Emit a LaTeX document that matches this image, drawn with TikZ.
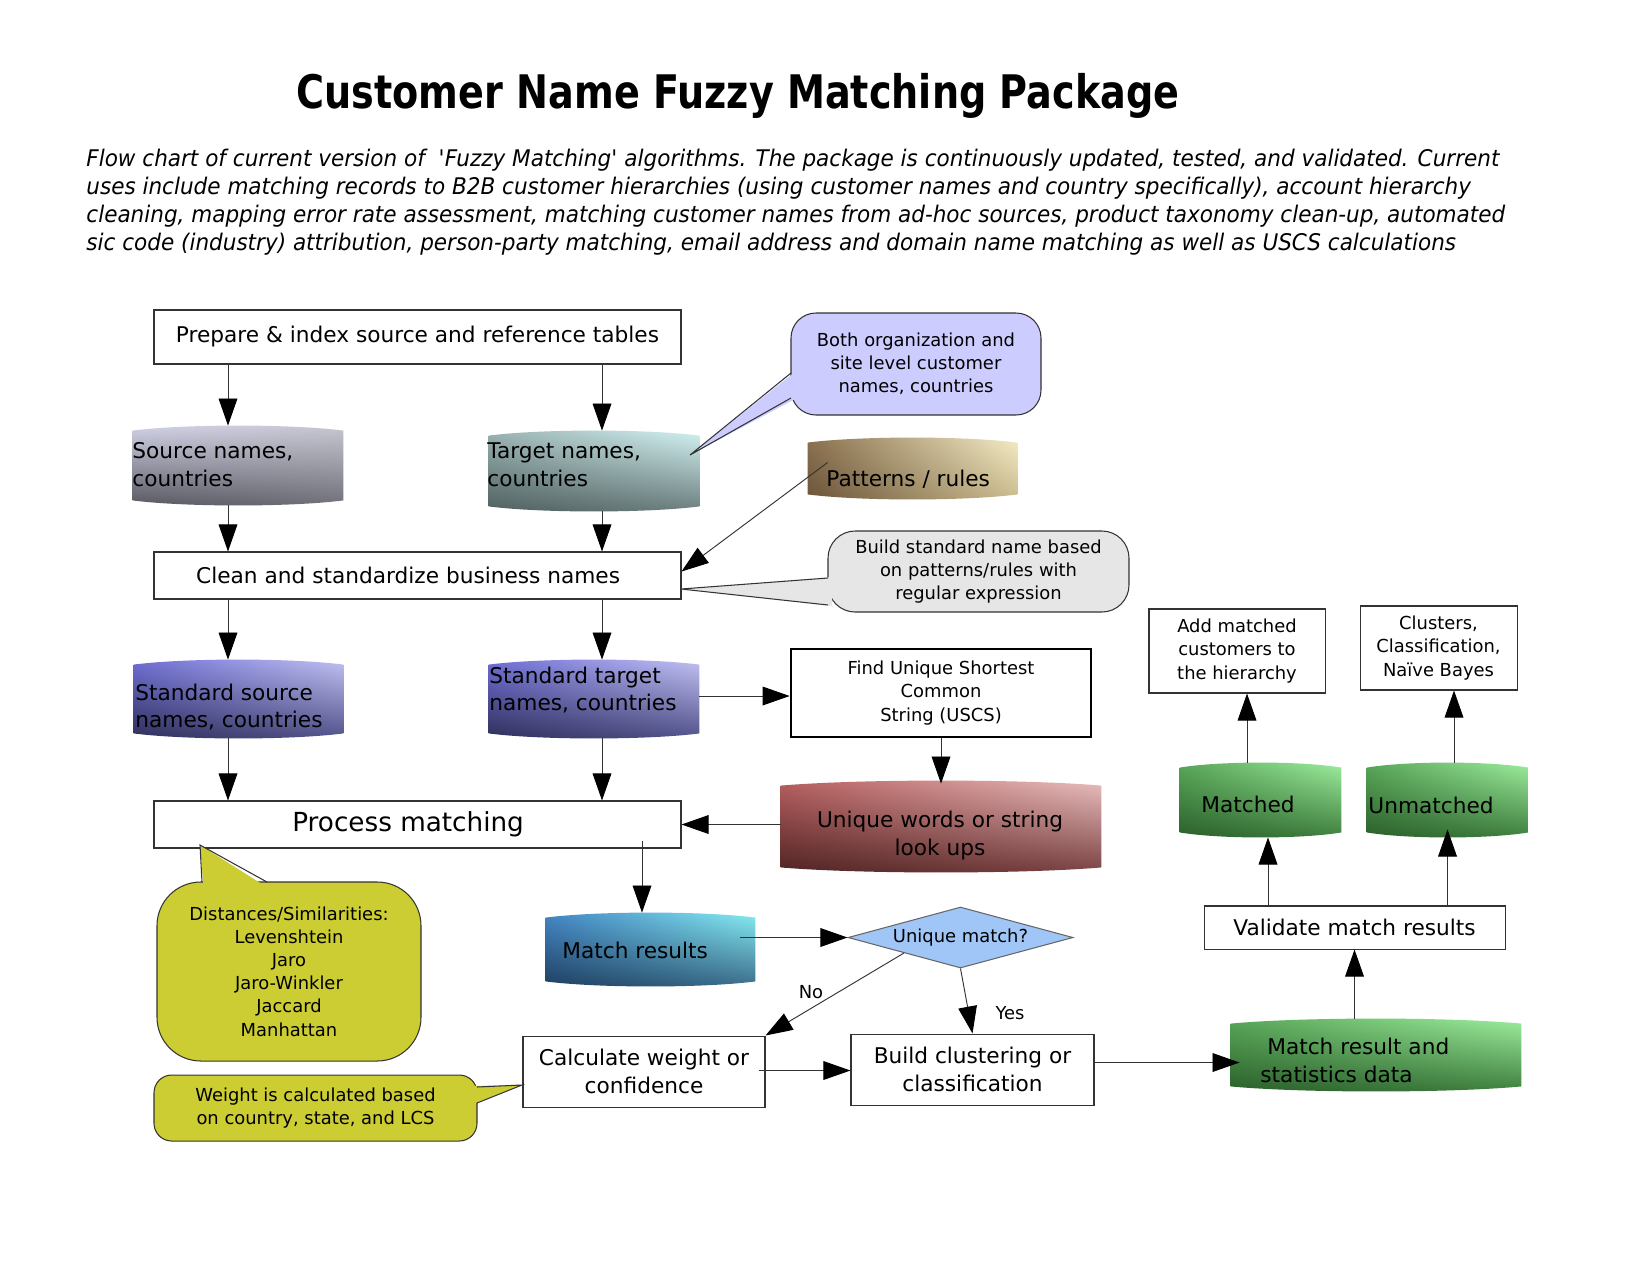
\documentclass[tikz,border=0pt]{standalone}
\usepackage{fontspec}
\setmainfont{DejaVu Sans}
\newfontfamily\titlefont{DejaVu Sans}[FakeStretch=0.825]
\newfontfamily\introfont{DejaVu Sans}[FakeStretch=0.94]
\usetikzlibrary{arrows.meta,calc,shapes.geometric,shadings}

% one drawing unit = one pixel of a 11in x 8.5in page at 150 dpi
\def\pxu{0.48pt}
\newcommand\txtL{\fontsize{10.4pt}{13.2pt}\selectfont}
\newcommand\txtS{\fontsize{8.6pt}{11.1pt}\selectfont}
\newcommand\txtP{\fontsize{12.6pt}{15pt}\selectfont}

\definecolor{lineclr}{HTML}{333333}
\definecolor{calloutlav}{HTML}{CCCCFF}
\definecolor{calloutgray}{HTML}{E6E6E6}
\definecolor{calloutolive}{HTML}{CCCC33}
\definecolor{decisionblue}{HTML}{9FC6F6}

\tikzset{
  x=0.48pt, y=-0.48pt,
  stepbox/.style={draw=lineclr, line width=0.5pt, fill=white, inner sep=0pt, align=center, font=\txtL},
  drumnode/.style={inner sep=0pt, draw=none},
  drumtext/.style={inner sep=0pt, align=left, font=\txtL},
  callout/.style={draw=lineclr, line width=0.5pt, inner sep=0pt, align=center, font=\txtS},
  tailline/.style={draw=lineclr, line width=0.5pt},
  conn/.style={draw=black!80, line width=0.45pt, -{Triangle[length=13pt,width=9pt,color=black,fill=black]}},
  % drum shadings
  shSrc/.style={upper left={rgb,255:red,212;green,212;blue,234}, upper right={rgb,255:red,200;green,200;blue,210}, lower left={rgb,255:red,85;green,85;blue,94}, lower right={rgb,255:red,110;green,110;blue,120}},
  shTgt/.style={upper left={rgb,255:red,157;green,181;blue,181}, upper right={rgb,255:red,213;green,244;blue,244}, lower left={rgb,255:red,78;green,94;blue,94}, lower right={rgb,255:red,106;green,124;blue,124}},
  shPat/.style={upper left={rgb,255:red,140;green,114;blue,80}, upper right={rgb,255:red,245;green,238;blue,200}, lower left={rgb,255:red,106;green,84;blue,56}, lower right={rgb,255:red,201;green,185;blue,140}},
  shStd/.style={upper left={rgb,255:red,112;green,112;blue,216}, upper right={rgb,255:red,196;green,196;blue,244}, lower left={rgb,255:red,46;green,46;blue,88}, lower right={rgb,255:red,80;green,80;blue,138}},
  shUniq/.style={upper left={rgb,255:red,184;green,96;blue,96}, upper right={rgb,255:red,235;green,192;blue,192}, lower left={rgb,255:red,78;green,34;blue,34}, lower right={rgb,255:red,122;green,64;blue,64}},
  shRes/.style={upper left={rgb,255:red,68;green,136;blue,200}, upper right={rgb,255:red,136;green,240;blue,244}, lower left={rgb,255:red,30;green,62;blue,94}, lower right={rgb,255:red,58;green,106;blue,138}},
  shGreen/.style={upper left={rgb,255:red,90;green,168;blue,90}, upper right={rgb,255:red,160;green,240;blue,160}, lower left={rgb,255:red,42;green,94;blue,42}, lower right={rgb,255:red,60;green,124;blue,60}},
}

% invisible node that carries the name and extent of a drum
\newcommand\drumnode[4]{\node[drumnode, minimum width=#3*\pxu, minimum height=#4*\pxu] (#1) at (#2) {};}
% shaded drum body with bulging top and bottom edges
\newcommand\drumshape[2]{%
  \shade[#2]
   ($(#1.north west)+(0,5)$)
   .. controls ($(#1.north west)!0.25!(#1.north east)+(0,-1.7)$) and ($(#1.north west)!0.75!(#1.north east)+(0,-1.7)$) .. ($(#1.north east)+(0,5)$)
   -- ($(#1.south east)+(0,-5)$)
   .. controls ($(#1.south west)!0.75!(#1.south east)+(0,1.7)$) and ($(#1.south west)!0.25!(#1.south east)+(0,1.7)$) .. ($(#1.south west)+(0,-5)$)
   -- cycle;}

\begin{document}
\begin{tikzpicture}
\useasboundingbox (0,0) rectangle (1650,1275);
\fill[white] (0,0) rectangle (1650,1275);

% heading
\node[anchor=base, inner sep=0pt, font=\titlefont\fontsize{22.2pt}{26pt}\selectfont\bfseries] (title) at (738,108) {Customer Name Fuzzy Matching Package};
\node[anchor=north west, inner sep=0pt, align=left, font=\introfont\fontsize{11pt}{13.4pt}\selectfont\itshape] (intro) at (86,149)
 {Flow chart of current version of\ \ \textquotesingle Fuzzy Matching\textquotesingle\ algorithms. The package is continuously updated, tested, and validated. Current\\
  uses include matching records to B2B customer hierarchies (using customer names and country specifically), account hierarchy\\
  cleaning, mapping error rate assessment, matching customer names from ad-hoc sources, product taxonomy clean-up, automated\\
  sic code (industry) attribution, person-party matching, email address and domain name matching as well as USCS calculations};

% drums
\drumnode{src}{238,465.5}{210}{79}
\drumnode{tgt}{594,471}{210}{80}
\drumnode{pat}{912.5,468.5}{209}{61}
\drumnode{stdsrc}{238.5,699}{209}{78}
\drumnode{stdtgt}{594,699}{210}{78}
\drumnode{uniq}{941,826.5}{320}{91}
\drumnode{mres}{650.5,949.5}{209}{73}
\drumnode{stats}{1376,1055}{290}{72}
\drumnode{matched}{1260.5,800}{161}{74}
\drumnode{unmatched}{1447.5,800}{161}{74}

\drumshape{src}{shSrc}
\drumshape{tgt}{shTgt}
\drumshape{pat}{shPat}
\drumshape{stdsrc}{shStd}
\drumshape{stdtgt}{shStd}
\drumshape{uniq}{shUniq}
\drumshape{mres}{shRes}
\drumshape{stats}{shGreen}
\drumshape{matched}{shGreen}
\drumshape{unmatched}{shGreen}

\node[drumtext, anchor=west] (src-t) at (132,464.5) {Source names,\\countries};
\node[drumtext, anchor=west] (tgt-t) at (487,464.5) {Target names,\\countries};
\node[drumtext, anchor=west] (pat-t) at (826,479) {Patterns / rules};
\node[drumtext, anchor=west] (stdsrc-t) at (135,707) {Standard source\\names, countries};
\node[drumtext, anchor=west] (stdtgt-t) at (489,690) {Standard target\\names, countries};
\node[drumtext, align=center] (uniq-t) at (940,835.5) {Unique words or string\\look ups};
\node[drumtext, anchor=west] (mres-t) at (562,950) {Match results};
\node[drumtext, anchor=west] (stats-t) at (1260,1060.5) {\hspace*{3.3pt}Match result and\\statistics data};
\node[drumtext] (matched-t) at (1248,804) {Matched};
\node[drumtext, anchor=west] (unmatched-t) at (1368,805) {Unmatched};

% process boxes
\node[stepbox, minimum width=527*\pxu, minimum height=54*\pxu] (prep) at (417.5,337) {Prepare \& index source and reference tables};
\node[stepbox, minimum width=527*\pxu, minimum height=47*\pxu] (clean) at (417.5,575.5) {Clean and standardize business names\hspace*{9pt}};
\node[stepbox, minimum width=527*\pxu, minimum height=47*\pxu, font=\txtP] (process) at (417.5,824.5) {Process matching\hspace*{9pt}};
\node[stepbox, line width=1.3pt, draw=black, minimum width=300*\pxu, minimum height=88*\pxu, font=\txtS] (uscs) at (941,693) {Find Unique Shortest\\Common\\String (USCS)};
\node[stepbox, minimum width=176*\pxu, minimum height=84*\pxu, font=\txtS] (addm) at (1237,651) {Add matched\\customers to\\the hierarchy};
\node[stepbox, minimum width=157*\pxu, minimum height=84*\pxu, font=\txtS] (clus) at (1438.5,648) {Clusters,\\Classification,\\Naïve Bayes};
\node[stepbox, minimum width=301*\pxu, minimum height=43*\pxu] (valid) at (1354.5,927.5) {Validate match results};
\node[stepbox, minimum width=242*\pxu, minimum height=71*\pxu] (calc) at (644,1071.5) {Calculate weight or\\confidence};
\node[stepbox, minimum width=243*\pxu, minimum height=71*\pxu] (build) at (972.5,1069.5) {Build clustering or\\classification};

% decision
\node[diamond, draw=black!60, line width=0.5pt, fill=decisionblue, inner sep=0pt, aspect=3.69,
      minimum width=225*\pxu, minimum height=61*\pxu, font=\txtS] (dia) at (960.5,937.5) {Unique match?};

% callouts
\node[callout, fill=calloutlav, rounded corners=12pt, minimum width=250*\pxu, minimum height=102*\pxu] (both) at (916,364) {Both organization and\\site level customer\\names, countries};
\coordinate (both-tip) at (690,455);
\fill[calloutlav] (795,372) -- (both-tip) -- (795,399) -- cycle;
\draw[tailline] (791,373) -- (both-tip) -- (791,398);

\node[callout, fill=calloutgray, rounded corners=13pt, minimum width=301*\pxu, minimum height=81*\pxu] (bstd) at (978.5,571.5) {Build standard name based\\on patterns/rules with\\regular expression};
\coordinate (bstd-tip) at (681,589);
\fill[calloutgray] (832,577) -- (bstd-tip) -- (832,606) -- cycle;
\draw[tailline] (828,578) -- (bstd-tip) -- (828,605);

\node[callout, fill=calloutolive, rounded corners=21pt, minimum width=264*\pxu, minimum height=179*\pxu] (dist) at (289,971.5) {Distances/Similarities:\\Levenshtein\\Jaro\\Jaro-Winkler\\Jaccard\\Manhattan};
\coordinate (dist-tip) at (200,845);
\fill[calloutolive] (203.5,886) -- (dist-tip) -- (265,886) -- cycle;
\draw[tailline] (202,882) -- (dist-tip) -- (267,882);

\node[callout, fill=calloutolive, rounded corners=8.5pt, minimum width=323*\pxu, minimum height=66*\pxu] (wgt) at (315.5,1108) {Weight is calculated based\\on country, state, and LCS};
\coordinate (wgt-tip) at (522,1085);
\fill[calloutolive] (473,1086) -- (wgt-tip) -- (473,1104) -- cycle;
\draw[tailline] (477,1087) -- (wgt-tip) -- (477,1103);

% connector columns
\coordinate (colA) at (228,0);
\coordinate (colB) at (602,0);
\coordinate (colC) at (642,0);
\coordinate (colD) at (1268,0);
\coordinate (colE) at (1247,0);
\coordinate (colF) at (1454,0);

% connectors
\draw[conn] (prep.south -| colA) -- (src.north -| colA);
\draw[conn] (prep.south -| colB) -- (tgt.north -| colB);
\draw[conn] (src.south -| colA) -- (clean.north -| colA);
\draw[conn] (tgt.south -| colB) -- (clean.north -| colB);
\draw[conn] ($(pat.west)+(20,-6)$) -- ($(clean.east)+(0,-4)$);
\draw[conn] (clean.south -| colA) -- (stdsrc.north -| colA);
\draw[conn] (clean.south -| colB) -- (stdtgt.north -| colB);
\draw[conn] ($(stdtgt.east)+(0,-3)$) -- ($(uscs.west |- stdtgt.east)+(0,-3)$);
\draw[conn] (uscs.south) -- ($(uniq.north)+(0,3)$);
\draw[conn] (stdsrc.south -| colA) -- (process.north -| colA);
\draw[conn] (stdtgt.south -| colB) -- (process.north -| colB);
\draw[conn] ($(uniq.west)+(0,-2)$) -- ($(process.east |- uniq.west)+(0,-2)$);
\draw[conn] ($(process.south -| colC)+(0,-8)$) -- (mres.north -| colC);
\draw[conn] ($(mres.east |- dia.west)+(-15,0)$) -- (dia.west);
\draw[conn] (dia.south west) -- (calc.north east);
\draw[conn] (dia.south) -- (build.north);
\draw[conn] ($(calc.east)+(-7,-1)$) -- ($(build.west |- calc.east)+(0,-1)$);
\draw[conn] ($(build.east)+(0,-7)$) -- ($(stats.west |- build.east)+(9,-7)$);
\draw[conn] (stats.north -| valid.south) -- (valid.south);
\draw[conn] (valid.north -| colD) -- (matched.south -| colD);
\draw[conn] (valid.north -| unmatched.south) -- ($(unmatched.south)+(0,-8)$);
\draw[conn] (matched.north -| colE) -- (addm.south -| colE);
\draw[conn] (unmatched.north -| colF) -- (clus.south -| colF);

\node[font=\txtS, inner sep=0pt] (lbl-no) at (811,992) {No};
\node[font=\txtS, inner sep=0pt] (lbl-yes) at (1010,1013) {Yes};
\end{tikzpicture}
\end{document}
